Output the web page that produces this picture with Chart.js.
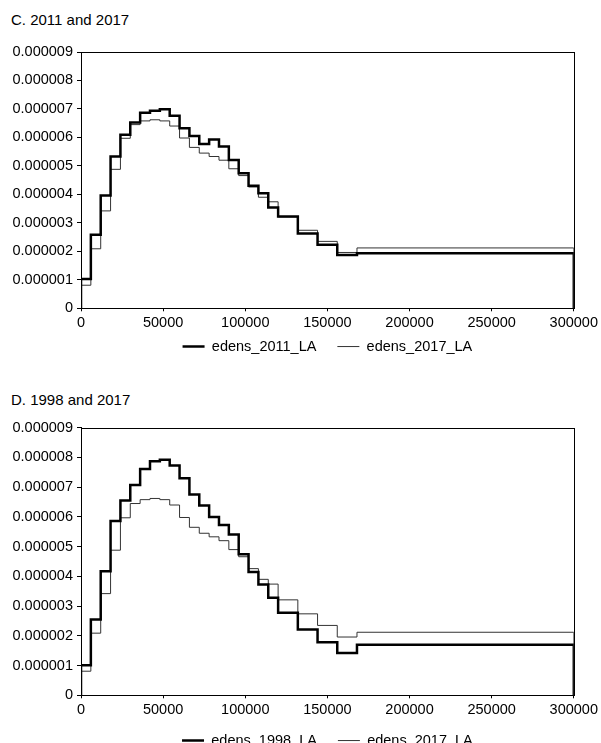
<!DOCTYPE html>
<html>
<head>
<meta charset="utf-8">
<title>edens LA</title>
<script src="https://cdn.jsdelivr.net/npm/chart.js@4/dist/chart.umd.min.js"></script>
<style>
  html, body { margin: 0; padding: 0; background: #fff; width: 601px; height: 743px; overflow: hidden; }
  .panel-title { position: absolute; left: 11px; font-family: "Liberation Sans", Arial, sans-serif; font-size: 15px; line-height: 15px; color: #000; white-space: nowrap; }
  .panel { position: absolute; left: 0; width: 601px; }
  canvas { display: block; }
</style>
</head>
<body>
<div class="panel-title" style="top:12px">C. 2011 and 2017</div>
<div class="panel" style="top:0px;height:390px"><canvas id="chartC" width="601" height="390" style="width:601px;height:390px"></canvas></div>
<div class="panel-title" style="top:392px">D. 1998 and 2017</div>
<div class="panel" style="top:372px;height:400px"><canvas id="chartD" width="601" height="400" style="width:601px;height:400px"></canvas></div>
<script>
// Income bin edges (the last bin is open up to 300000)
const binEdges = [0, 6000, 12000, 18000, 24000, 30000, 36000, 42000, 48000, 54000,
  60000, 66000, 72000, 78000, 84000, 90000, 96000, 102000, 108000, 114000,
  120000, 132000, 144000, 156000, 168000, 300000];

// Estimated density per bin
const edens2011 = [1.03e-6, 2.58e-6, 3.96e-6, 5.33e-6, 6.09e-6, 6.52e-6, 6.87e-6, 6.94e-6, 6.99e-6, 6.76e-6,
  6.32e-6, 6.05e-6, 5.77e-6, 5.93e-6, 5.68e-6, 5.21e-6, 4.74e-6, 4.30e-6, 4.04e-6, 3.54e-6,
  3.22e-6, 2.63e-6, 2.23e-6, 1.87e-6, 1.93e-6];
const edens2017 = [0.81e-6, 2.09e-6, 3.42e-6, 4.88e-6, 5.97e-6, 6.45e-6, 6.58e-6, 6.62e-6, 6.58e-6, 6.40e-6,
  5.98e-6, 5.65e-6, 5.45e-6, 5.33e-6, 5.20e-6, 4.90e-6, 4.66e-6, 4.26e-6, 3.90e-6, 3.74e-6,
  3.21e-6, 2.74e-6, 2.35e-6, 1.96e-6, 2.12e-6];
const edens1998 = [1.01e-6, 2.55e-6, 4.17e-6, 5.86e-6, 6.55e-6, 7.07e-6, 7.61e-6, 7.87e-6, 7.92e-6, 7.73e-6,
  7.30e-6, 6.75e-6, 6.38e-6, 6.00e-6, 5.73e-6, 5.41e-6, 4.74e-6, 4.15e-6, 3.73e-6, 3.28e-6,
  2.78e-6, 2.21e-6, 1.78e-6, 1.42e-6, 1.70e-6];

const xTickLabels = ['0', '50000', '100000', '150000', '200000', '250000', '300000'];
const yTickLabels = ['0', '0.000001', '0.000002', '0.000003', '0.000004', '0.000005',
  '0.000006', '0.000007', '0.000008', '0.000009'];

Chart.defaults.font.family = '"Liberation Sans", Arial, sans-serif';
Chart.defaults.font.size = 14.5;
Chart.defaults.color = '#000';

// Step outline: rises from zero at the first edge, drops back to zero at the last edge
function stepPoints(values) {
  const pts = [{ x: binEdges[0], y: 0 }];
  values.forEach((v, i) => pts.push({ x: binEdges[i], y: v }));
  pts.push({ x: binEdges[binEdges.length - 1], y: 0 });
  return pts;
}

// Box round the plot area
const frame = {
  id: 'frame',
  beforeDatasetsDraw(chart) {
    const { ctx, chartArea: a } = chart;
    ctx.save();
    ctx.strokeStyle = '#000';
    ctx.lineWidth = 1;
    ctx.strokeRect(Math.round(a.left) + 0.5, Math.round(a.top) + 0.5,
      Math.round(a.right) - Math.round(a.left), Math.round(a.bottom) - Math.round(a.top));
    ctx.restore();
  }
};

// Pull the legend row up closer to the axis labels
const legendLift = {
  id: 'legendLift',
  afterLayout(chart, args, opts) {
    const lg = chart.legend;
    if (lg) {
      lg.top -= opts.lift;
      lg.bottom -= opts.lift;
    }
  }
};

function makeChart(id, thickLabel, thickValues, padding, lift) {
  return new Chart(document.getElementById(id), {
    type: 'line',
    data: {
      datasets: [
        {
          label: thickLabel,
          data: stepPoints(thickValues),
          stepped: 'before',
          borderColor: '#000',
          borderWidth: 2.5,
          pointRadius: 0,
          fill: false
        },
        {
          label: 'edens_2017_LA',
          data: stepPoints(edens2017),
          stepped: 'before',
          borderColor: '#333',
          borderWidth: 1,
          pointRadius: 0,
          fill: false
        }
      ]
    },
    options: {
      responsive: false,
      animation: false,
      layout: { padding: padding },
      scales: {
        x: {
          type: 'linear',
          min: 0,
          max: 300000,
          afterFit(scale) { scale.height = 24; },
          ticks: {
            stepSize: 50000,
            maxRotation: 0,
            padding: 3,
            color: '#000',
            callback: (v, i) => xTickLabels[i]
          },
          grid: { drawOnChartArea: false, drawTicks: true, tickLength: 3, color: '#000' },
          border: { display: true, color: '#000', width: 1 }
        },
        y: {
          min: 0,
          max: 0.000009,
          afterFit(scale) { scale.width = 81; },
          ticks: {
            stepSize: 0.000001,
            padding: 4,
            color: '#000',
            callback: (v, i) => yTickLabels[i]
          },
          grid: { drawOnChartArea: false, drawTicks: true, tickLength: 4, color: '#000' },
          border: { display: true, color: '#000', width: 1 }
        }
      },
      plugins: {
        legend: {
          position: 'bottom',
          fullSize: false,
          labels: {
            usePointStyle: true,
            pointStyle: 'line',
            pointStyleWidth: 22,
            padding: 21,
            color: '#000',
            font: { size: 14.5 }
          }
        },
        legendLift: { lift: lift },
        tooltip: { enabled: false }
      }
    },
    plugins: [frame, legendLift]
  });
}

makeChart('chartC', 'edens_2011_LA', edens2011, { top: 52, right: 26, bottom: 12.2, left: 0 }, 14);
makeChart('chartD', 'edens_1998_LA', edens1998, { top: 55.7, right: 26, bottom: 7.2, left: 0 }, 7);
</script>
</body>
</html>
